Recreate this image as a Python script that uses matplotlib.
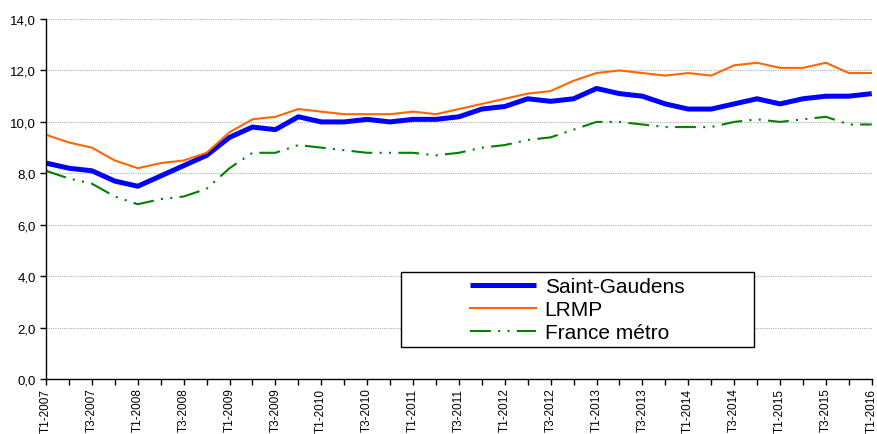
import matplotlib
matplotlib.use('Agg')
import matplotlib.pyplot as plt
from matplotlib.patches import Rectangle

plt.rcParams['font.family'] = ['Liberation Sans', 'DejaVu Sans']

# trimestres T1-2007 .. T1-2016
quarters = ['T%d-%d' % (q, y) for y in range(2007, 2017) for q in (1, 2, 3, 4)][:37]
saint_gaudens = [8.4, 8.2, 8.1, 7.7, 7.5, 7.9, 8.3, 8.7, 9.4, 9.8, 9.7, 10.2, 10.0, 10.0, 10.1, 10.0,
                 10.1, 10.1, 10.2, 10.5, 10.6, 10.9, 10.8, 10.9, 11.3, 11.1, 11.0, 10.7, 10.5, 10.5,
                 10.7, 10.9, 10.7, 10.9, 11.0, 11.0, 11.1]
lrmp = [9.5, 9.2, 9.0, 8.5, 8.2, 8.4, 8.5, 8.8, 9.6, 10.1, 10.2, 10.5, 10.4, 10.3, 10.3, 10.3,
        10.4, 10.3, 10.5, 10.7, 10.9, 11.1, 11.2, 11.6, 11.9, 12.0, 11.9, 11.8, 11.9, 11.8,
        12.2, 12.3, 12.1, 12.1, 12.3, 11.9, 11.9]
france = [8.1, 7.8, 7.6, 7.1, 6.8, 7.0, 7.1, 7.4, 8.2, 8.8, 8.8, 9.1, 9.0, 8.9, 8.8, 8.8,
          8.8, 8.7, 8.8, 9.0, 9.1, 9.3, 9.4, 9.7, 10.0, 10.0, 9.9, 9.8, 9.8, 9.8,
          10.0, 10.1, 10.0, 10.1, 10.2, 9.9, 9.9]
yticks = [0, 2, 4, 6, 8, 10, 12, 14]

fig = plt.figure(figsize=(8.77, 4.35), dpi=100)
ax = fig.add_axes([0.0525, 0.126, 0.9415, 0.828])
x = list(range(len(quarters)))

ax.plot(x, saint_gaudens, color='#0000FF', lw=3.6, label='Saint-Gaudens', solid_capstyle='butt')
ax.plot(x, lrmp, color='#FF6600', lw=1.5, label='LRMP')
ax.plot(x, france, color='#008000', lw=1.5, dashes=(10, 3.5, 1, 3.5, 1, 3.5), label='France métro')

ax.set_xlim(0, len(quarters) - 1)
ax.set_ylim(0, 14)
ax.set_yticks(yticks)
ax.set_yticklabels([('%.1f' % v).replace('.', ',') for v in yticks])
ax.set_xticks(x)
ax.set_xticklabels([q if i % 2 == 0 else '' for i, q in enumerate(quarters)], rotation=90)
ax.tick_params(axis='both', colors='black', length=4, width=1, direction='out')
ax.tick_params(axis='y', labelsize=9.5)
ax.tick_params(axis='x', labelsize=8.5, pad=2)
ax.yaxis.grid(True, color='#B0B0B0', ls=(0, (1, 1)), lw=0.8)
ax.set_axisbelow(True)
for s in ('top', 'right'):
    ax.spines[s].set_visible(False)
for s in ('left', 'bottom'):
    ax.spines[s].set_color('black')
    ax.spines[s].set_linewidth(1)

ax.add_patch(Rectangle((0.43, 0.089), 0.428, 0.208, transform=ax.transAxes,
                       facecolor='white', edgecolor='black', lw=1, zorder=5))
leg = ax.legend(loc='center left', bbox_to_anchor=(0.513, 0.193), frameon=False,
                fontsize=15, handlelength=3.2, handletextpad=0.4, labelspacing=0.2,
                borderpad=0, borderaxespad=0)
leg.set_zorder(6)

fig.savefig('out.png', dpi=100)
